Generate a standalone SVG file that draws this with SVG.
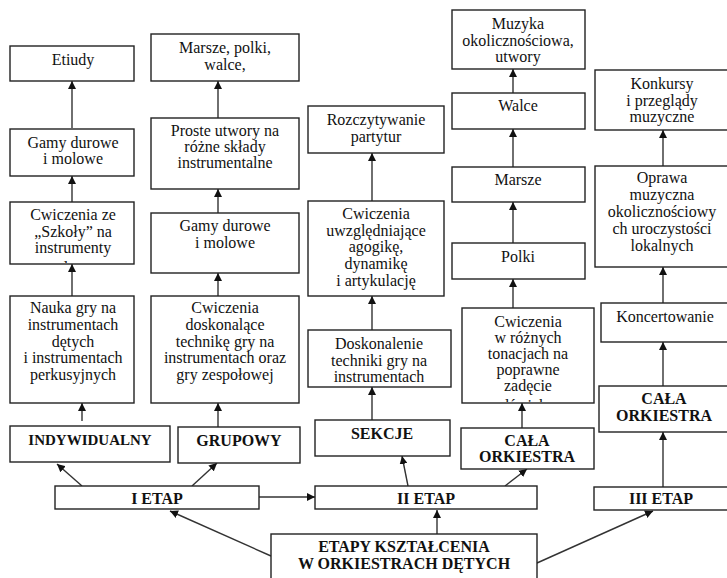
<svg xmlns="http://www.w3.org/2000/svg" width="727" height="578" viewBox="0 0 727 578">
<defs>
<marker id="ah" viewBox="0 0 10 10" refX="10" refY="5" markerWidth="8" markerHeight="8" markerUnits="userSpaceOnUse" orient="auto">
<path d="M0,0 L10,5 L0,10 z" fill="#111"/>
</marker>
<clipPath id="c1"><rect x="10" y="202" width="124" height="61"/></clipPath>
<clipPath id="c2"><rect x="462" y="308" width="132" height="94"/></clipPath>
</defs>
<style>
rect{fill:#fff;stroke:#222;stroke-width:1.4}
text{font-family:"Liberation Serif","Times New Roman",serif;font-size:16px;fill:#111;text-anchor:middle}
.b{font-weight:bold;font-size:16px}
.s{font-size:15px}
#connectors line{stroke:#333;stroke-width:1.4;marker-end:url(#ah)}
</style>
<rect x="0" y="0" width="727" height="578" style="stroke:none;fill:#fff"/>

<g id="connectors">
<line x1="72" y1="128" x2="72" y2="81"/>
<line x1="72" y1="202" x2="72" y2="176"/>
<line x1="72" y1="296" x2="72" y2="264"/>
<line x1="82" y1="421" x2="82" y2="403"/>
<line x1="218" y1="118" x2="218" y2="81"/>
<line x1="218" y1="213" x2="218" y2="189"/>
<line x1="218" y1="296" x2="218" y2="273"/>
<line x1="218" y1="427" x2="218" y2="403"/>
<line x1="372" y1="201" x2="372" y2="153"/>
<line x1="372" y1="330" x2="372" y2="296"/>
<line x1="372" y1="420" x2="372" y2="387"/>
<line x1="513" y1="93" x2="513" y2="69"/>
<line x1="513" y1="167" x2="513" y2="129"/>
<line x1="513" y1="243" x2="513" y2="202"/>
<line x1="513" y1="308" x2="513" y2="279"/>
<line x1="522" y1="428" x2="522" y2="403"/>
<line x1="663" y1="166" x2="663" y2="130"/>
<line x1="663" y1="303" x2="663" y2="267"/>
<line x1="663" y1="386" x2="663" y2="342"/>
<line x1="82" y1="486" x2="57" y2="464"/>
<line x1="192" y1="486" x2="217" y2="463"/>
<line x1="259" y1="497" x2="315" y2="497"/>
<line x1="271" y1="556" x2="170" y2="511"/>
<line x1="437" y1="534" x2="437" y2="510"/>
<line x1="537" y1="563" x2="653" y2="511"/>
<line x1="408" y1="486" x2="402" y2="456"/>
<line x1="505" y1="486" x2="527" y2="469"/>
<line x1="663" y1="487" x2="663" y2="432"/>
</g>

<g id="etiudy"><rect x="10" y="46" width="124" height="35"/><text x="73" y="65">Etiudy</text></g>
<g id="gamy1"><rect x="10" y="129" width="124" height="47"/><text x="73" y="148">Gamy durowe</text><text x="73" y="164">i molowe</text></g>
<g id="cwiczenia-szkoly"><rect x="10" y="202" width="124" height="62"/><g clip-path="url(#c1)"><text x="73" y="220">Cwiczenia ze</text><text x="73" y="237">„Szkoły” na</text><text x="73" y="253">instrumenty</text><text x="73" y="273">dęte</text></g></g>
<g id="nauka"><rect x="10" y="296" width="124" height="107"/><text x="73" y="313">Nauka gry na</text><text x="73" y="330">instrumentach</text><text x="73" y="347">dętych</text><text x="73" y="363">i instrumentach</text><text x="73" y="380">perkusyjnych</text></g>
<g id="indywidualny"><rect x="10" y="426" width="160" height="36"/><text class="b s" x="90" y="445">INDYWIDUALNY</text></g>

<g id="marsze-polki"><rect x="151" y="34" width="148" height="47"/><text x="225" y="53">Marsze, polki,</text><text x="225" y="70">walce,</text></g>
<g id="proste"><rect x="151" y="118" width="148" height="71"/><text x="225" y="136">Proste utwory na</text><text x="225" y="152">różne składy</text><text x="225" y="168">instrumentalne</text></g>
<g id="gamy2"><rect x="151" y="213" width="148" height="60"/><text x="225" y="231">Gamy durowe</text><text x="225" y="248">i molowe</text></g>
<g id="cwiczenia-dosk"><rect x="151" y="296" width="148" height="107"/><text x="225" y="313">Cwiczenia</text><text x="225" y="330">doskonalące</text><text x="225" y="347">technikę gry na</text><text x="225" y="363">instrumentach oraz</text><text x="225" y="380">gry zespołowej</text></g>
<g id="grupowy"><rect x="178" y="427" width="122" height="36"/><text class="b" x="239" y="446">GRUPOWY</text></g>

<g id="rozczytywanie"><rect x="308" y="106" width="136" height="47"/><text x="376" y="125">Rozczytywanie</text><text x="376" y="142">partytur</text></g>
<g id="cwiczenia-uwzgl"><rect x="308" y="201" width="136" height="95"/><text x="376" y="219">Cwiczenia</text><text x="376" y="236">uwzględniające</text><text x="376" y="252">agogikę,</text><text x="376" y="269">dynamikę</text><text x="376" y="286">i artykulację</text></g>
<g id="doskonalenie"><rect x="308" y="330" width="143" height="57"/><text x="379" y="349">Doskonalenie</text><text x="379" y="366">techniki gry na</text><text x="379" y="382">instrumentach</text></g>
<g id="sekcje"><rect x="315" y="420" width="135" height="36"/><text class="b" x="382" y="439">SEKCJE</text></g>

<g id="muzyka"><rect x="452" y="10" width="133" height="59"/><text x="518" y="29">Muzyka</text><text x="518" y="46">okolicznościowa,</text><text x="518" y="62">utwory</text></g>
<g id="walce"><rect x="452" y="93" width="133" height="36"/><text x="518" y="111">Walce</text></g>
<g id="marsze"><rect x="452" y="167" width="133" height="35"/><text x="518" y="185">Marsze</text></g>
<g id="polki"><rect x="452" y="243" width="133" height="36"/><text x="518" y="262">Polki</text></g>
<g id="cwiczenia-tonacje"><rect x="462" y="308" width="132" height="95"/><g clip-path="url(#c2)"><text x="528" y="327">Cwiczenia</text><text x="528" y="343">w różnych</text><text x="528" y="359">tonacjach na</text><text x="528" y="375">poprawne</text><text x="528" y="391">zadęcie</text><text x="528" y="411">dźwięku</text></g></g>
<g id="cala-orkiestra-2"><rect x="461" y="428" width="133" height="41"/><text class="b" x="527" y="446">CAŁA</text><text class="b" x="527" y="462">ORKIESTRA</text></g>

<g id="konkursy"><rect x="595" y="70" width="134" height="60"/><text x="662" y="89">Konkursy</text><text x="662" y="106">i przeglądy</text><text x="662" y="122">muzyczne</text></g>
<g id="oprawa"><rect x="595" y="166" width="134" height="101"/><text x="662" y="183">Oprawa</text><text x="662" y="200">muzyczna</text><text x="662" y="217">okolicznościowy</text><text x="662" y="234">ch uroczystości</text><text x="662" y="251">lokalnych</text></g>
<g id="koncertowanie"><rect x="601" y="303" width="128" height="39"/><text x="665" y="322">Koncertowanie</text></g>
<g id="cala-orkiestra-3"><rect x="599" y="386" width="130" height="46"/><text class="b" x="664" y="404">CAŁA</text><text class="b" x="664" y="421">ORKIESTRA</text></g>

<g id="etap1"><rect x="55" y="486" width="204" height="23"/><text class="b" x="157" y="504">I ETAP</text></g>
<g id="etap2"><rect x="315" y="486" width="222" height="23"/><text class="b" x="426" y="504">II ETAP</text></g>
<g id="etap3"><rect x="594" y="487" width="135" height="23"/><text class="b" x="661" y="504">III ETAP</text></g>
<g id="etapy"><rect x="271" y="534" width="266" height="50"/><text class="b" x="404" y="552">ETAPY KSZTAŁCENIA</text><text class="b" x="404" y="569">W ORKIESTRACH DĘTYCH</text></g>
</svg>
